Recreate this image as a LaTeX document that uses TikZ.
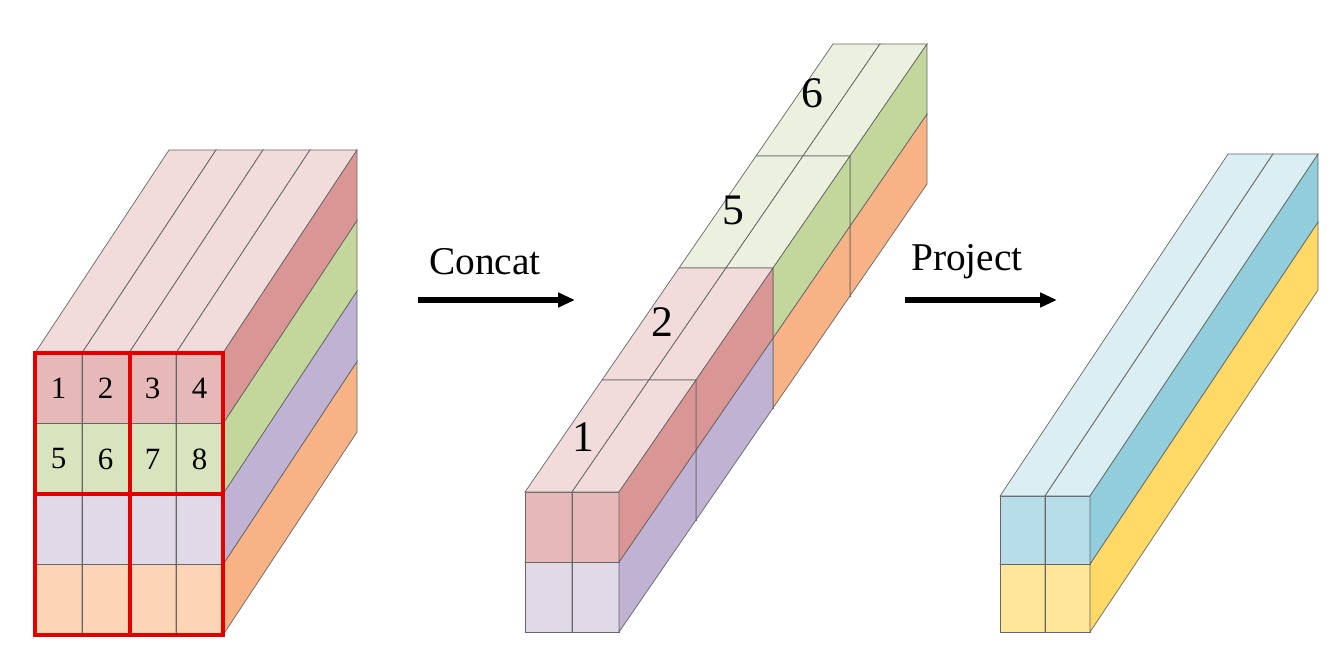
\documentclass[tikz,border=0pt]{standalone}
\usepackage{fontspec}
\setmainfont{Liberation Serif}
\usepackage{tikz}
\usetikzlibrary{positioning,calc,arrows.meta}
\definecolor{redF}{HTML}{E6B9B8}\definecolor{redT}{HTML}{F2DCDB}\definecolor{redR}{HTML}{D99694}
\definecolor{grnF}{HTML}{D7E4BD}\definecolor{grnT}{HTML}{EBF1DE}\definecolor{grnR}{HTML}{C3D69B}
\definecolor{purF}{HTML}{E0D9E8}\definecolor{purT}{HTML}{E6E0EC}\definecolor{purR}{HTML}{BFB2D2}
\definecolor{orgF}{HTML}{FBD5B5}\definecolor{orgT}{HTML}{FDE9D9}\definecolor{orgR}{HTML}{F7B386}
\definecolor{bluF}{HTML}{B7DEE8}\definecolor{bluT}{HTML}{DAEEF3}\definecolor{bluR}{HTML}{92CDDC}
\definecolor{ylwF}{HTML}{FFE699}\definecolor{ylwT}{HTML}{FFF2CC}\definecolor{ylwR}{HTML}{FFD966}
% #1,#2 front top-left, #3 w, #4 h, #5,#6 depth, #7 front, #8 top, #9 right
\newcommand{\boxcell}[9]{%
  \filldraw[fill=#7] ({#1},{#2}) rectangle ({#1+#3},{#2+#4});
  \filldraw[fill=#8] ({#1},{#2}) -- ({#1+#5},{#2+#6}) -- ({#1+#3+#5},{#2+#6}) -- ({#1+#3},{#2}) -- cycle;
  \filldraw[fill=#9] ({#1+#3},{#2}) -- ({#1+#3+#5},{#2+#6}) -- ({#1+#3+#5},{#2+#4+#6}) -- ({#1+#3},{#2+#4}) -- cycle;}
\begin{document}
\begin{tikzpicture}[
	x=0.05cm, y=-0.05cm,
	draw=black!60, line width=1pt,
	num/.style={font=\fontsize{44}{44}\selectfont, inner sep=0},
	big/.style={font=\fontsize{62}{62}\selectfont, inner sep=0},
	op/.style={font=\fontsize{56}{56}\selectfont, inner sep=0},
	frame/.style={draw=red!90!black, line width=4.5pt},
	>={Triangle[length=24pt,width=20pt]},
]
\useasboundingbox (0,0) rectangle (1338,660);

% left block
\foreach \r/\cf/\ct/\cr in {4/orgF/orgT/orgR,3/purF/purT/purR,2/grnF/grnT/grnR,1/redF/redT/redR}
  \foreach \c in {1,...,4}
    \boxcell{35+47*(\c-1)}{353+70.5*(\r-1)}{47}{70.5}{134}{-203}{\cf}{\ct}{\cr};
\foreach \n/\c/\r in {1/1/1,2/2/1,3/3/1,4/4/1,5/1/2,6/2/2,7/3/2,8/4/2}
  \node[num] (n\n) at ({35+47*\c-23.5}, {353+70.5*\r-35}) {\n};
\draw[frame] (35,353) rectangle (223,635);
\draw[frame] (130,353) -- (130,635);
\draw[frame] (35,494) -- (223,494);

% middle stack
\foreach \k/\tf/\tt/\tr/\bf/\bt/\br in {4/grnF/grnT/grnR/orgF/orgT/orgR,3/grnF/grnT/grnR/orgF/orgT/orgR,2/redF/redT/redR/purF/purT/purR,1/redF/redT/redR/purF/purT/purR}
  \foreach \c in {1,2}{
    \boxcell{525+47*(\c-1)+77*(\k-1)}{562-112*(\k-1)}{47}{70}{77}{-112}{\bf}{\bt}{\br};
    \boxcell{525+47*(\c-1)+77*(\k-1)}{492-112*(\k-1)}{47}{70}{77}{-112}{\tf}{\tt}{\tr};
  }
\node[big] (s1) at (583,437) {1};
\node[big] (s2) at (662,322) {2};
\node[big] (s5) at (733,210) {5};
\node[big] (s6) at (812,93) {6};

% right bar
\foreach \c in {1,2}{
  \boxcell{1000+45*(\c-1)}{564}{45}{68}{228}{-342}{ylwF}{ylwT}{ylwR};
  \boxcell{1000+45*(\c-1)}{496}{45}{68}{228}{-342}{bluF}{bluT}{bluR};
}

% arrows
\node[op] (concat) at (485,262) {Concat};
\node[op] (project) at (967,262) {Project};
\coordinate (ca) at (418,300); \coordinate (cb) at (575,300);
\coordinate (pa) at (905,300); \coordinate (pb) at (1057,300);
\draw[->, black, line width=9pt] (ca) -- (cb);
\draw[->, black, line width=9pt] (pa) -- (pb);
\end{tikzpicture}
\end{document}
